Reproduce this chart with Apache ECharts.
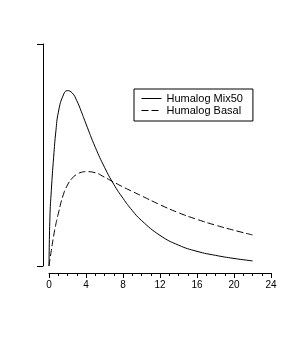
<!DOCTYPE html>
<html><head><meta charset="utf-8">
<script src="https://cdn.jsdelivr.net/npm/echarts@6/dist/echarts.min.js"></script>
<style>html,body{margin:0;padding:0;background:#fff}#c{width:305px;height:338px}</style>
</head><body><div id="c"></div>
<script>
var seriesNames = ['Humalog Mix50', 'Humalog Basal'];
var xTicks = [0, 4, 8, 12, 16, 20, 24];
var hours = [0, 0.1, 0.25, 0.5, 0.75, 1, 1.5, 2, 2.5, 3, 3.5, 4, 5, 6, 7, 8, 9, 10, 12, 14, 16, 18, 20, 22];
var mix50 = [0, 22, 34, 49, 61, 69, 76.5, 79, 78, 74.5, 69.5, 64, 53.5, 44.5, 36.8, 30.5, 25, 20.5, 13.8, 9.4, 6.6, 4.8, 3.4, 2.3];
var basal = [0, 3, 7, 13.5, 19, 23.5, 31.5, 36.5, 39.5, 41.3, 42.2, 42.5, 42, 40, 37.8, 35.6, 33.6, 31.6, 27.6, 24, 21, 18.4, 16.1, 14];

function pairs(xs, ys) { return xs.map(function (x, i) { return [x, ys[i]]; }); }

var chart = echarts.init(document.getElementById('c'), null, {renderer: 'canvas'});
chart.setOption({
  animation: false,
  backgroundColor: '#ffffff',
  textStyle: {fontFamily: 'Liberation Sans, Arial, sans-serif', color: '#000'},
  grid: {left: 49, right: 34, top: 44, bottom: 72},
  xAxis: {
    type: 'value', min: xTicks[0], max: xTicks[xTicks.length - 1], interval: 4,
    offset: 7,
    axisLine: {show: true, onZero: false, lineStyle: {color: '#000', width: 1}},
    axisTick: {show: true, length: 5, lineStyle: {color: '#000'}},
    minorTick: {show: true, splitNumber: 4, length: 3, lineStyle: {color: '#000'}},
    axisLabel: {color: '#000', fontSize: 10, margin: 7},
    splitLine: {show: false}
  },
  yAxis: {
    type: 'value', min: 0, max: 100, interval: 100,
    offset: 6,
    axisLine: {show: true, onZero: false, lineStyle: {color: '#000', width: 1}},
    axisTick: {show: true, length: 6, lineStyle: {color: '#000'}},
    axisLabel: {show: false},
    splitLine: {show: false}
  },
  legend: {
    orient: 'vertical', left: 134, top: 89,
    padding: [4, 10, 5, 7],
    borderColor: '#000', borderWidth: 1,
    itemWidth: 20, itemHeight: 10, itemGap: 1,
    itemStyle: {opacity: 0},
    lineStyle: {width: 1},
    textStyle: {color: '#000', fontSize: 11},
    data: seriesNames
  },
  series: [
    {name: seriesNames[0], type: 'line', data: pairs(hours, mix50), smooth: 0.5,
     symbol: 'none', lineStyle: {color: '#000', width: 1, type: 'solid'}, itemStyle: {color: '#000'}},
    {name: seriesNames[1], type: 'line', data: pairs(hours, basal), smooth: 0.5,
     symbol: 'none', lineStyle: {color: '#000', width: 1, type: [7, 3]}, itemStyle: {color: '#000'}}
  ]
});
</script></body></html>
